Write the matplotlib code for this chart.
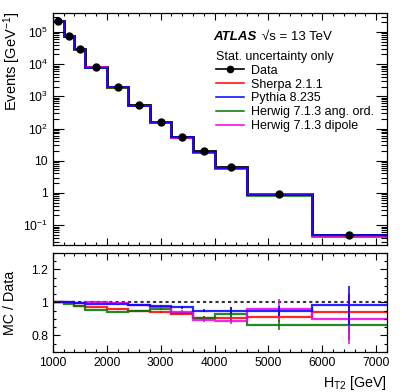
import numpy as np
import matplotlib
matplotlib.use("Agg")
import matplotlib.pyplot as plt
from matplotlib.lines import Line2D
from matplotlib.ticker import FuncFormatter, LogLocator, MultipleLocator, NullFormatter

plt.rcParams["font.family"] = ["Liberation Sans", "DejaVu Sans"]
plt.rcParams["mathtext.fontset"] = "custom"
plt.rcParams["mathtext.rm"] = "Liberation Sans"
plt.rcParams["mathtext.it"] = "Liberation Sans:italic"
plt.rcParams["mathtext.bf"] = "Liberation Sans:bold"

# ---------------------------------------------------------------------------
# Data
# ---------------------------------------------------------------------------
bin_edges = [1000, 1200, 1400, 1600, 2000, 2400, 2800, 3200, 3600, 4000, 4600, 5800, 7200]
data_vals = [2.2e5, 7.5e4, 2.9e4, 7.9e3, 1.9e3, 5.2e2, 1.6e2, 55, 19.4, 6.2, 0.93, 0.05]

ratio_sherpa  = [1.005, 0.996, 0.976, 0.970, 0.960, 0.950, 0.940, 0.930, 0.905, 0.905, 0.910, 0.940]
ratio_pythia  = [1.005, 1.000, 0.996, 0.990, 0.990, 0.986, 0.980, 0.970, 0.950, 0.950, 0.950, 0.982]
ratio_hw_ang  = [1.005, 0.990, 0.976, 0.955, 0.943, 0.950, 0.960, 0.935, 0.905, 0.930, 0.862, 0.862]
ratio_hw_dip  = [1.005, 1.000, 0.996, 1.005, 0.996, 0.986, 0.970, 0.945, 0.894, 0.890, 0.963, 0.900]

err_sherpa = [0.001, 0.001, 0.002, 0.002, 0.003, 0.004, 0.006, 0.008, 0.010, 0.020, 0.030, 0.110]
err_pythia = [0.001, 0.001, 0.002, 0.002, 0.003, 0.004, 0.006, 0.010, 0.010, 0.020, 0.030, 0.120]
err_hw_ang = [0.001, 0.001, 0.002, 0.002, 0.003, 0.004, 0.006, 0.008, 0.010, 0.045, 0.030, 0.090]
err_hw_dip = [0.001, 0.001, 0.002, 0.002, 0.003, 0.004, 0.006, 0.008, 0.010, 0.020, 0.055, 0.150]

labels = ["Sherpa 2.1.1", "Pythia 8.235", "Herwig 7.1.3 ang. ord.", "Herwig 7.1.3 dipole"]
colors = ["#ff0000", "#0000ff", "#007700", "#ee00ee"]

edges = np.array(bin_edges, dtype=float)
data = np.array(data_vals)
centers = 0.5 * (edges[:-1] + edges[1:])
ratios = [np.array(r) for r in (ratio_sherpa, ratio_pythia, ratio_hw_ang, ratio_hw_dip)]
errors = [np.array(e) for e in (err_sherpa, err_pythia, err_hw_ang, err_hw_dip)]

# ---------------------------------------------------------------------------
# Figure
# ---------------------------------------------------------------------------
fig = plt.figure(figsize=(4.07, 3.92), dpi=100)
ax = fig.add_axes([0.130, 0.375, 0.821, 0.592])
rax = fig.add_axes([0.130, 0.102, 0.821, 0.253])

# top panel
ax.stairs(data, edges, color="black", lw=2.0, baseline=None)
draw_order = [0, 2, 3, 1]
for i in draw_order:
    ax.stairs(data * ratios[i], edges, color=colors[i], lw=1.1, baseline=None)
ax.plot(centers, data, "o", color="black", ms=5, zorder=5)

ax.set_yscale("log")
ax.set_xlim(1000, 7200)
ax.set_ylim(0.024, 3.9e5)


def log_fmt(v, pos):
    e = int(round(np.log10(v)))
    if e == 0:
        return "1"
    if e == 1:
        return "10"
    return r"$10^{%d}$" % e


ax.yaxis.set_major_locator(LogLocator(base=10, numticks=20))
ax.yaxis.set_major_formatter(FuncFormatter(log_fmt))
ax.yaxis.set_minor_locator(LogLocator(base=10, subs=np.arange(2, 10), numticks=20))
ax.yaxis.set_minor_formatter(NullFormatter())
ax.xaxis.set_major_locator(MultipleLocator(1000))
ax.xaxis.set_minor_locator(MultipleLocator(200))
ax.tick_params(axis="x", labelbottom=False)
fig.text(12 / 407, 1 - 12 / 392, r"Events [GeV$^{-1}$]", fontsize=10.5,
         rotation=90, ha="center", va="top")

# ATLAS label and legend
ax.text(0.48, 0.897, "ATLAS", transform=ax.transAxes, fontsize=9.5,
        fontweight="bold", fontstyle="italic", va="center")
ax.text(0.625, 0.897, "\u221As = 13 TeV", transform=ax.transAxes,
        fontsize=9.5, va="center")

handles = [Line2D([], [], color="black", marker="o", ms=4.5, lw=1.2)]
handles += [Line2D([], [], color=c, lw=1.1) for c in colors]
leg = ax.legend(handles, ["Data"] + labels, title="Stat. uncertainty only",
                loc="upper left", bbox_to_anchor=(0.485, 0.842), frameon=False,
                fontsize=9, title_fontsize=9, handlelength=2.2,
                handletextpad=0.55, labelspacing=0.15, borderpad=0.1,
                borderaxespad=0, alignment="left")

# ratio panel
rax.axhline(1.0, color="#333333", ls=(0, (1.5, 1.5)), lw=1.5, zorder=1)
for i in draw_order:
    rax.stairs(ratios[i], edges, color=colors[i], lw=1.6, alpha=0.85, baseline=None)
    rax.errorbar(centers, ratios[i], yerr=errors[i], fmt="none",
                 ecolor=colors[i], elinewidth=1.3, capsize=0, alpha=0.85)

rax.set_xlim(1000, 7200)
rax.set_ylim(0.7, 1.3)
rax.xaxis.set_major_locator(MultipleLocator(1000))
rax.xaxis.set_minor_locator(MultipleLocator(200))
rax.yaxis.set_major_locator(MultipleLocator(0.2))
rax.yaxis.set_minor_locator(MultipleLocator(0.05))
rax.yaxis.set_major_formatter(FuncFormatter(lambda v, p: "1" if abs(v - 1) < 1e-6 else f"{v:.1f}"))
rax.set_ylabel("MC / Data", fontsize=10.3)
rax.set_xlabel(r"H$_{\mathregular{T2}}$ [GeV]", fontsize=10.3, loc="right")

for a in (ax, rax):
    a.tick_params(which="both", direction="in", top=True, right=True,
                  labelsize=8.7, width=0.8)
    a.tick_params(which="major", length=5)
    a.tick_params(which="minor", length=2.5)
    for s in a.spines.values():
        s.set_linewidth(0.9)
ax.tick_params(axis="y", which="major", length=8)
ax.tick_params(axis="y", which="minor", length=4)

rax.yaxis.set_label_coords(-0.108, 0.5)

fig.savefig("out.png", dpi=100)
